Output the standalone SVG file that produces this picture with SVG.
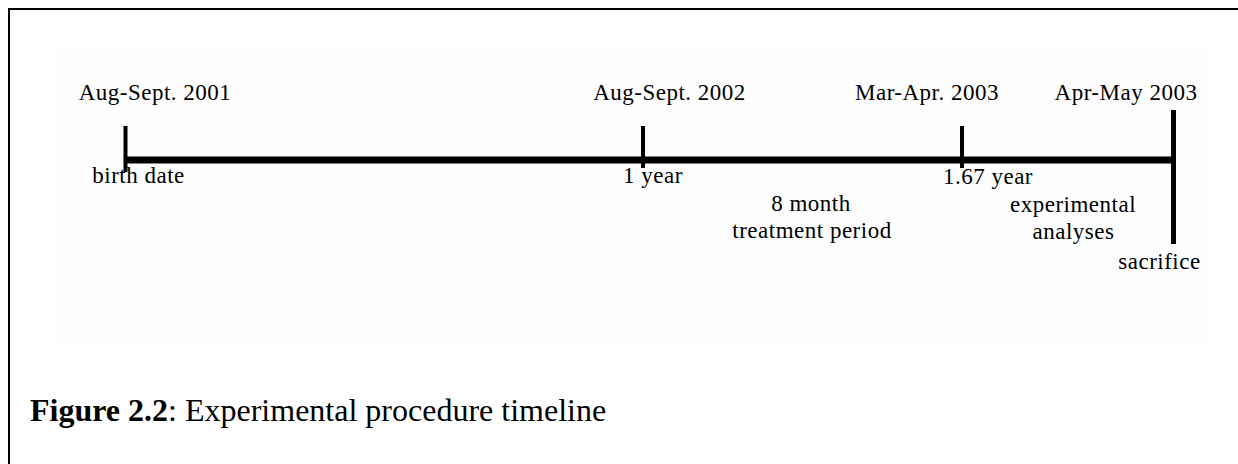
<svg xmlns="http://www.w3.org/2000/svg" width="1238" height="464" viewBox="0 0 1238 464">
  <style>
    .lbl { font-family: "Liberation Serif", "Times New Roman", serif; font-size: 23px; letter-spacing: 0.5px; fill: #000; text-anchor: middle; }
    .cap { font-family: "Liberation Serif", "Times New Roman", serif; font-size: 32px; fill: #000; }
    .axis { stroke: #000; fill: none; }
  </style>
  <rect x="0" y="0" width="1238" height="464" fill="#ffffff"/>
  <rect x="56" y="48" width="1151" height="295" fill="#fdfdfd"/>
  <path d="M9,464 V9 H1238" fill="none" stroke="#000" stroke-width="2"/>

  <g id="connectors">
    <line class="axis" x1="124" y1="160" x2="1175" y2="160" stroke-width="7"/>
  </g>

  <g id="node-birth">
    <line class="axis" x1="125.5" y1="126" x2="125.5" y2="172" stroke-width="4"/>
    <text class="lbl" x="155" y="100">Aug-Sept. 2001</text>
    <text class="lbl" x="138.5" y="183">birth date</text>
  </g>

  <g id="node-1year">
    <line class="axis" x1="643" y1="126" x2="643" y2="168" stroke-width="4"/>
    <text class="lbl" x="669.5" y="100">Aug-Sept. 2002</text>
    <text class="lbl" x="653" y="183">1 year</text>
  </g>

  <g id="node-treatment">
    <text class="lbl" x="811" y="211">8 month</text>
    <text class="lbl" x="812" y="238">treatment period</text>
  </g>

  <g id="node-167year">
    <line class="axis" x1="962" y1="126" x2="962" y2="168" stroke-width="4"/>
    <text class="lbl" x="927" y="100">Mar-Apr. 2003</text>
    <text class="lbl" x="988" y="184">1.67 year</text>
  </g>

  <g id="node-analyses">
    <text class="lbl" x="1073" y="212">experimental</text>
    <text class="lbl" x="1073.5" y="239">analyses</text>
  </g>

  <g id="node-sacrifice">
    <line class="axis" x1="1173.5" y1="110" x2="1173.5" y2="244" stroke-width="5"/>
    <text class="lbl" x="1126" y="100">Apr-May 2003</text>
    <text class="lbl" x="1159.5" y="269">sacrifice</text>
  </g>

  <g id="caption">
    <text class="cap" x="30" y="421"><tspan font-weight="bold">Figure 2.2</tspan>: Experimental procedure timeline</text>
  </g>
</svg>
